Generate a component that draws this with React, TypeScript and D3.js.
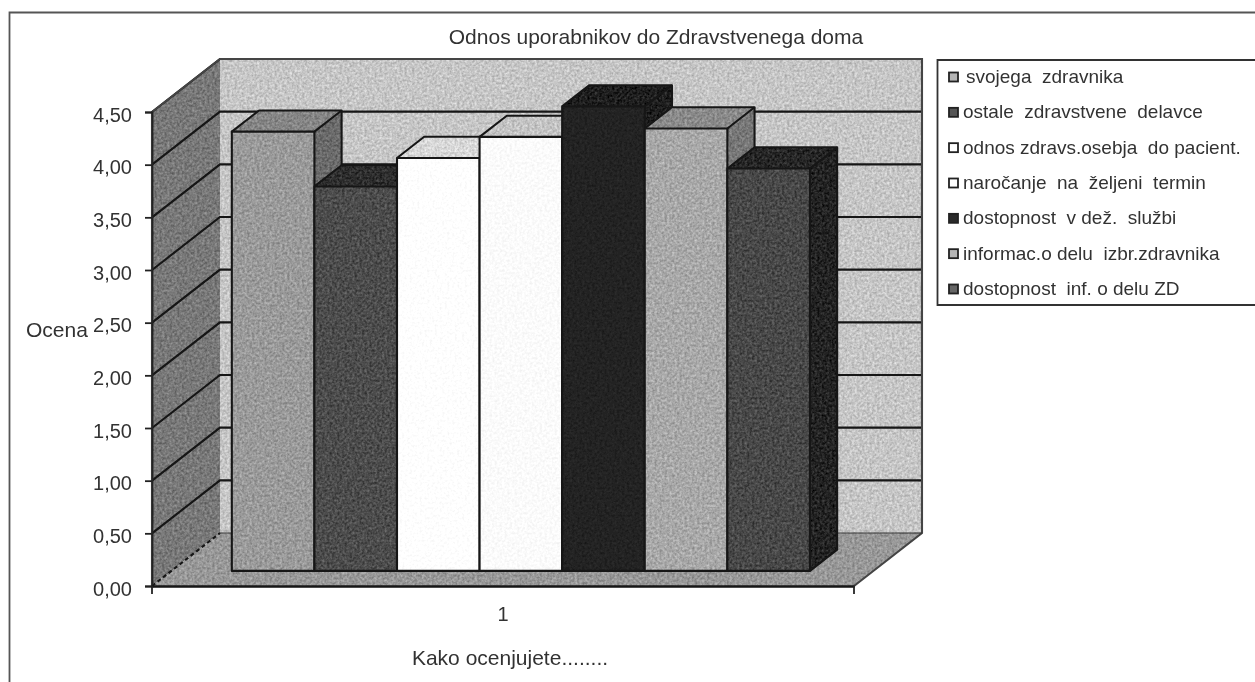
import * as d3 from "d3";
import { useEffect, useRef } from "react";

const WIDTH = 1255;
const HEIGHT = 682;

const TITLE = "Odnos uporabnikov do Zdravstvenega doma";
const Y_LABEL = "Ocena";
const X_LABEL = "Kako ocenjujete........";
const CATEGORIES = ["1"];
const SERIES = [
  "svojega  zdravnika",
  "ostale  zdravstvene  delavce",
  "odnos zdravs.osebja  do pacient.",
  "naročanje  na  željeni  termin",
  "dostopnost  v dež.  službi",
  "informac.o delu  izbr.zdravnika",
  "dostopnost  inf. o delu ZD",
];
const VALUES = [4.17, 3.65, 3.92, 4.12, 4.41, 4.2, 3.82];
const Y_TICKS = [0, 0.5, 1, 1.5, 2, 2.5, 3, 3.5, 4, 4.5];

// front, top, side greys per series
const BAR_FILLS = [
  ["#9a9a9a", "#858585", "#6a6a6a"],
  ["#4c4c4c", "#2e2e2e", "#333333"],
  ["#ffffff", "#d8d8d8", "#bbbbbb"],
  ["#fbfbfb", "#c4c4c4", "#bbbbbb"],
  ["#232323", "#1e1e1e", "#1e1e1e"],
  ["#a8a8a8", "#8a8a8a", "#777777"],
  ["#484848", "#262626", "#232323"],
];
const BAR_GRAIN = ["grain", "grain", "grainSoft", "grainSoft", "grainSoft", "grain", "grain"];
const LEGEND_FILLS = ["#b5b5b5", "#555555", "#ffffff", "#ffffff", "#2a2a2a", "#b5b5b5", "#666666"];

const FONT = "'Liberation Sans', Arial, sans-serif";
const INK = "#333333";

export default function App() {
  const ref = useRef<SVGSVGElement>(null);

  useEffect(() => {
    if (!ref.current) return;
    const svg = d3.select(ref.current);
    svg.selectAll("*").remove();

    const defs = svg.append("defs");
    const addGrain = (id: string, amount: number) => {
      const f = defs
        .append("filter")
        .attr("id", id)
        .attr("x", "0")
        .attr("y", "0")
        .attr("width", "100%")
        .attr("height", "100%")
        .attr("color-interpolation-filters", "sRGB");
      f.append("feTurbulence")
        .attr("type", "fractalNoise")
        .attr("baseFrequency", 0.4)
        .attr("numOctaves", 2)
        .attr("seed", 4)
        .attr("result", "n");
      f.append("feColorMatrix")
        .attr("in", "n")
        .attr("type", "matrix")
        .attr("values", "1 0 0 0 0 1 0 0 0 0 1 0 0 0 0 0 0 0 0 1")
        .attr("result", "g");
      f.append("feComposite")
        .attr("in", "SourceGraphic")
        .attr("in2", "g")
        .attr("operator", "arithmetic")
        .attr("k1", 0)
        .attr("k2", 1)
        .attr("k3", amount)
        .attr("k4", -amount / 2)
        .attr("result", "c");
      f.append("feComposite").attr("in", "c").attr("in2", "SourceAlpha").attr("operator", "in");
    };
    addGrain("grain", 0.36);
    addGrain("grainSoft", 0.12);
    defs.append("filter").attr("id", "scan").append("feGaussianBlur").attr("stdDeviation", 0.55);

    const root = svg.append("g").attr("filter", "url(#scan)");

    // outer frame runs off the page on the right and bottom
    root
      .append("path")
      .attr("d", `M${WIDTH + 5},12.5H9.5V${HEIGHT + 5}`)
      .attr("fill", "none")
      .attr("stroke", "#555")
      .attr("stroke-width", 1.8);

    const y = d3.scaleLinear().domain([0, 4.5]).range([586, 112]);
    const xCat = d3.scaleBand().domain(CATEGORIES).range([152, 854]);
    const depthX = d3.scaleLinear().domain([0, 1]).range([0, 68]);
    const depthY = d3.scaleLinear().domain([0, 1]).range([0, -53]);

    // screen position of a point given front x, value and depth (0 front, 1 back)
    const pt = (x: number, v: number, z: number): [number, number] => [x + depthX(z), y(v) + depthY(z)];
    const poly = (pts: [number, number][]) => pts.map((p) => p.join(",")).join(" ");

    const [x0, x1] = xCat.range();
    const top = Y_TICKS[Y_TICKS.length - 1];
    const walls = root.append("g");

    walls
      .append("polygon")
      .attr("points", poly([pt(x0, 0, 1), pt(x1, 0, 1), pt(x1, top, 1), pt(x0, top, 1)]))
      .attr("fill", "#c6c6c6")
      .attr("filter", "url(#grain)");
    walls
      .append("polygon")
      .attr("points", poly([pt(x0, 0, 0), pt(x0, 0, 1), pt(x0, top, 1), pt(x0, top, 0)]))
      .attr("fill", "#787878")
      .attr("filter", "url(#grain)");
    walls
      .append("polygon")
      .attr("points", poly([pt(x0, 0, 0), pt(x1, 0, 0), pt(x1, 0, 1), pt(x0, 0, 1)]))
      .attr("fill", "#989898")
      .attr("filter", "url(#grain)");

    // gridlines over side wall and back wall
    const grid = root.append("g").attr("fill", "none").attr("stroke", "#141414").attr("stroke-width", 2.1);
    Y_TICKS.forEach((t) => {
      const a = pt(x0, t, 0);
      const b = pt(x0, t, 1);
      const c = pt(x1, t, 1);
      grid
        .append("path")
        .attr("d", `M${a}L${b}${t === 0 ? "" : `L${c}`}`)
        .attr("stroke-dasharray", t === 0 ? "4 3" : null);
    });
    grid
      .append("path")
      .attr("d", `M${pt(x0, 0, 0)}L${pt(x0, top, 0)}L${pt(x0, top, 1)}L${pt(x1, top, 1)}L${pt(x1, 0, 1)}L${pt(x1, 0, 0)}`)
      .attr("stroke", "#444");
    grid.append("path").attr("d", `M${pt(x0, 0, 1)}L${pt(x1, 0, 1)}`).attr("stroke", "#333").attr("stroke-width", 1.2);

    // bars: 150% gap width, sitting in the middle of the depth
    const zFront = 0.285;
    const zBack = 0.685;
    const xBar = d3
      .scaleBand()
      .domain(SERIES)
      .range([x0 - 1.5, x1 - 1.5])
      .paddingInner(0)
      .paddingOuter(0.75);
    const bw = xBar.bandwidth();

    const bars = root
      .append("g")
      .selectAll("g")
      .data(SERIES)
      .join("g")
      .attr("stroke", "#161616")
      .attr("stroke-width", 2.1)
      .attr("stroke-linejoin", "round");

    bars.each(function (name, i) {
      const g = d3.select(this);
      const l = xBar(name) ?? 0;
      const r = l + bw;
      const v = VALUES[i];
      const [front, topFill, side] = BAR_FILLS[i];
      g.append("polygon")
        .attr("points", poly([pt(r, 0, zFront), pt(r, 0, zBack), pt(r, v, zBack), pt(r, v, zFront)]))
        .attr("fill", side)
        .attr("stroke", "none")
        .attr("filter", "url(#grain)");
      g.append("polygon")
        .attr("points", poly([pt(l, v, zFront), pt(r, v, zFront), pt(r, v, zBack), pt(l, v, zBack)]))
        .attr("fill", topFill)
        .attr("stroke", "none")
        .attr("filter", "url(#grain)");
      g.append("polygon")
        .attr("points", poly([pt(l, 0, zFront), pt(r, 0, zFront), pt(r, v, zFront), pt(l, v, zFront)]))
        .attr("fill", front)
        .attr("stroke", "none")
        .attr("filter", `url(#${BAR_GRAIN[i]})`);
      g.append("path")
        .attr("d", `M${pt(l, v, zFront)}L${pt(l, v, zBack)}L${pt(r, v, zBack)}L${pt(r, 0, zBack)}L${pt(r, 0, zFront)}`)
        .attr("fill", "none");
      g.append("polygon")
        .attr("points", poly([pt(l, 0, zFront), pt(r, 0, zFront), pt(r, v, zFront), pt(l, v, zFront)]))
        .attr("fill", "none");
      g.append("path").attr("d", `M${pt(r, v, zFront)}L${pt(r, v, zBack)}`).attr("fill", "none");
    });

    // axes
    const yAxis = root
      .append("g")
      .attr("transform", `translate(${x0},0)`)
      .call(
        d3
          .axisLeft(y)
          .tickValues(Y_TICKS)
          .tickSize(7)
          .tickPadding(13)
          .tickFormat((d) => d3.format(".2f")(d as number).replace(".", ","))
      );
    yAxis.select(".domain").attr("stroke", "#222").attr("stroke-width", 1.8);
    yAxis.selectAll("line").attr("stroke", "#222").attr("stroke-width", 1.8);
    yAxis.selectAll("text").attr("fill", INK).attr("dy", "0.45em").style("font-family", FONT).style("font-size", "20px");

    const xAxis = root
      .append("g")
      .attr("transform", "translate(0,586)")
      .call(d3.axisBottom(xCat).tickSize(0).tickPadding(21));
    xAxis.select(".domain").attr("stroke", "#141414").attr("stroke-width", 2.4);
    xAxis.selectAll("text").attr("fill", INK).style("font-family", FONT).style("font-size", "20px");
    xCat.range().forEach((x) => {
      root.append("line").attr("x1", x).attr("x2", x).attr("y1", 586).attr("y2", 594).attr("stroke", "#222").attr("stroke-width", 1.8);
    });

    const label = (text: string, x: number, yy: number, size: number, anchor = "start") =>
      root
        .append("text")
        .attr("x", x)
        .attr("y", yy)
        .attr("text-anchor", anchor)
        .attr("fill", INK)
        .style("font-family", FONT)
        .style("font-size", `${size}px`)
        .style("white-space", "pre")
        .text(text);

    label(TITLE, 656, 44, 21, "middle");
    label(Y_LABEL, 26, 337, 21);
    label(X_LABEL, 510, 665, 21, "middle");

    // legend
    root
      .append("path")
      .attr("d", `M${WIDTH + 5},60H937.5V305H${WIDTH + 5}`)
      .attr("fill", "#fff")
      .attr("stroke", "#333")
      .attr("stroke-width", 1.8);
    const legendY = d3.scalePoint().domain(SERIES).range([77, 289]);
    const rows = root.append("g").selectAll("g").data(SERIES).join("g");
    rows
      .append("rect")
      .attr("x", 949)
      .attr("y", (d) => (legendY(d) ?? 0) - 4.5)
      .attr("width", 9)
      .attr("height", 9)
      .attr("fill", (_, i) => LEGEND_FILLS[i])
      .attr("stroke", "#222")
      .attr("stroke-width", 1.8);
    rows
      .append("text")
      .attr("x", (_, i) => (i === 0 ? 966 : 963))
      .attr("y", (d) => (legendY(d) ?? 0) + 6)
      .attr("fill", INK)
      .style("font-family", FONT)
      .style("font-size", "19px")
      .style("white-space", "pre")
      .text((d) => d);
  }, []);

  return (
    <svg
      ref={ref}
      width={WIDTH}
      height={HEIGHT}
      style={{ position: "absolute", left: 0, top: 0, display: "block", background: "#fff" }}
    />
  );
}
